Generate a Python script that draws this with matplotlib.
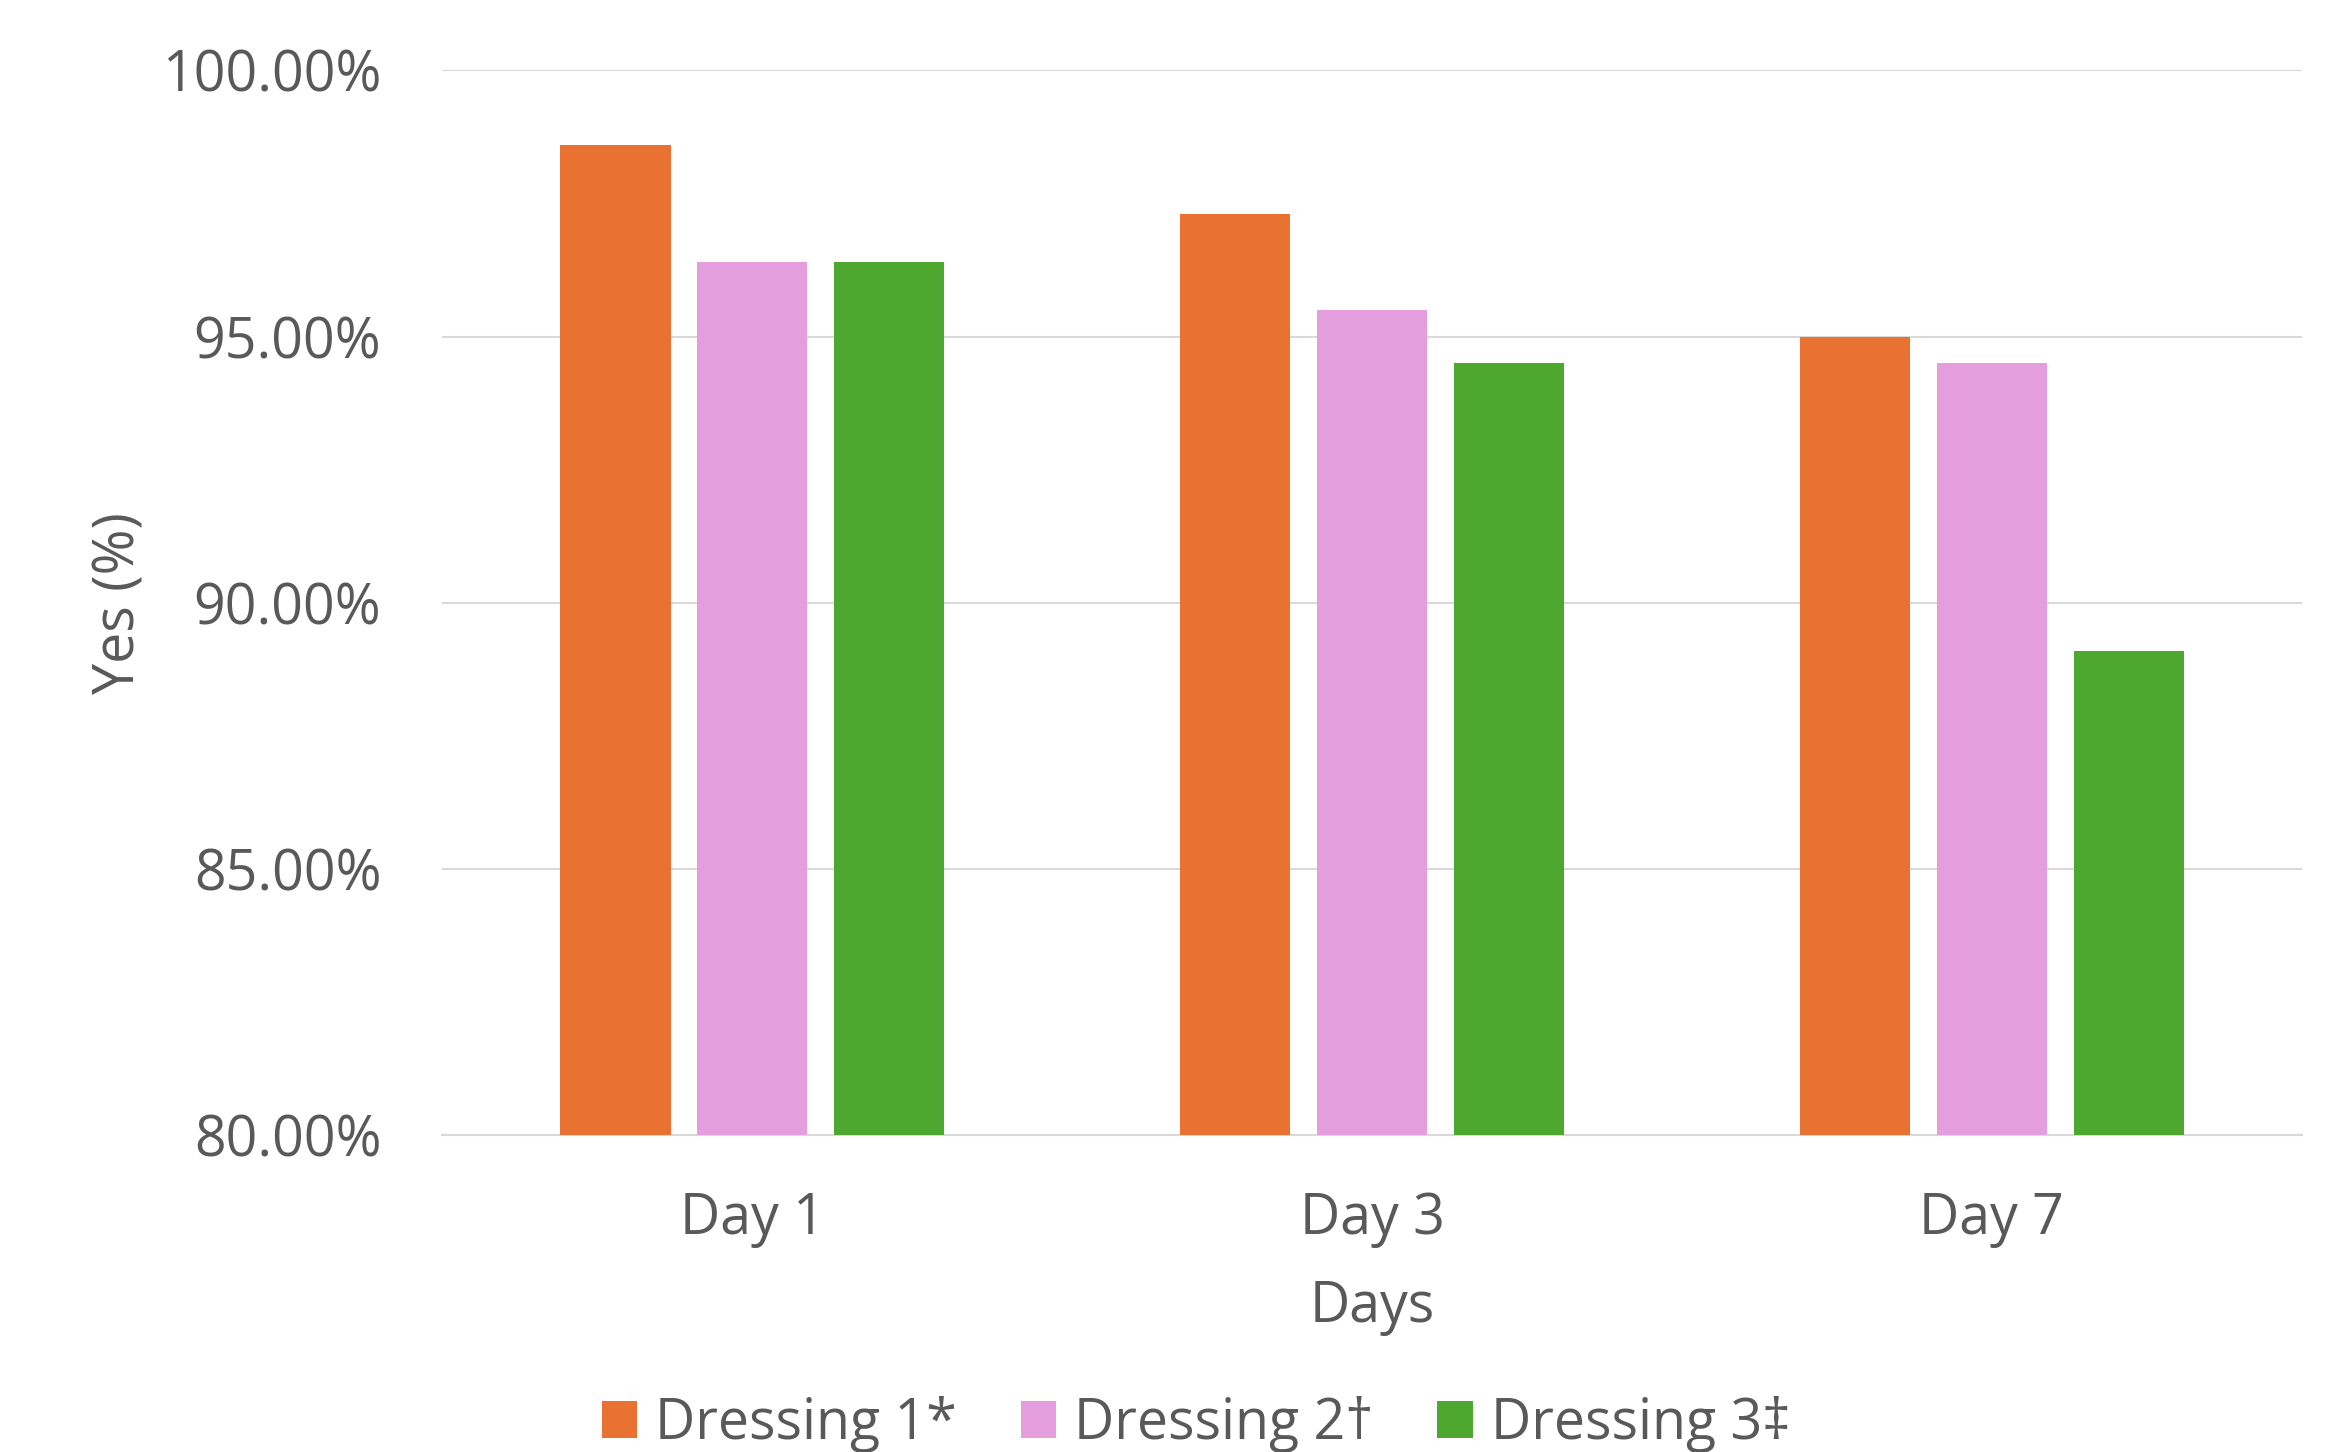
import matplotlib
matplotlib.use("Agg")
import matplotlib.pyplot as plt
import matplotlib.ticker as mticker
import numpy as np

days = ["Day 1", "Day 3", "Day 7"]
series_names = ["Dressing 1*", "Dressing 2\u2020", "Dressing 3\u2021"]
dressing1 = [98.6, 97.3, 95.0]
dressing2 = [96.4, 95.5, 94.5]
dressing3 = [96.4, 94.5, 89.1]
colors = ["#E97132", "#E59EDD", "#4EA72E"]

plt.rcParams['font.family'] = ['Open Sans', 'DejaVu Sans']
textColor = "#595959"
gridColor = "#D9D9D9"

fig = plt.figure(figsize=(23.36, 14.52), dpi=100)
ax = fig.add_axes([0.1894, 0.218, 0.9853 - 0.1894, 0.9516 - 0.218])

x = np.arange(len(days))
barWidth = 0.178
step = 0.221
for i, (vals, name) in enumerate(zip([dressing1, dressing2, dressing3], series_names)):
    ax.bar(x + (i - 1) * step, np.array(vals) - 80, bottom=80, width=barWidth,
           color=colors[i], label=name, zorder=3)

ax.set_xlim(-0.5, 2.5)
ax.set_ylim(80, 100)
ax.set_yticks([80, 85, 90, 95, 100])
ax.yaxis.set_major_formatter(mticker.FuncFormatter(lambda v, p: "%.2f%%" % v))
ax.grid(axis="y", color=gridColor, linewidth=1.5, zorder=0)
for s in ["top", "right", "left"]:
    ax.spines[s].set_visible(False)
ax.spines["bottom"].set_color(gridColor)
ax.spines["bottom"].set_linewidth(1.5)

ax.set_xticks(x)
ax.set_xticklabels(days)
ax.tick_params(axis="both", length=0, labelsize=40, labelcolor=textColor)
ax.tick_params(axis="y", pad=44)
ax.tick_params(axis="x", pad=40)

ax.set_xlabel("Days", fontsize=40, color=textColor, labelpad=22)
ax.set_ylabel("Yes (%)", fontsize=40, color=textColor, labelpad=10)

fig.legend(loc="center", bbox_to_anchor=(0.512, 0.019), ncol=3, frameon=False,
           fontsize=40, labelcolor=textColor, handlelength=0.64, handleheight=0.64,
           handletextpad=0.32, columnspacing=1.15)

fig.savefig("out.png", dpi=100)
